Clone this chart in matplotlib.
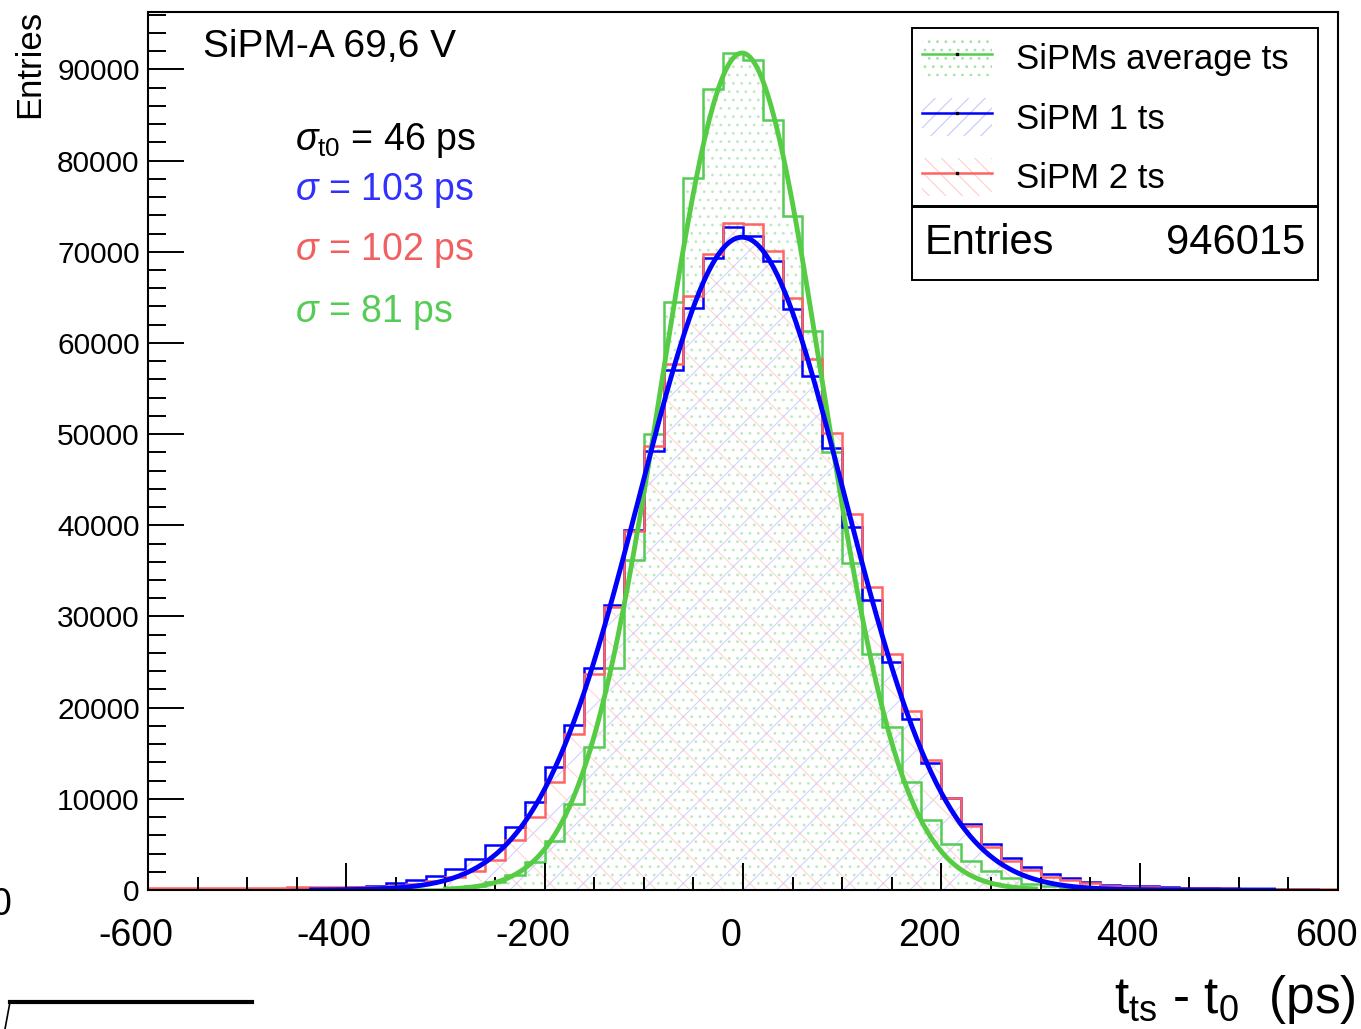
import numpy as np
import matplotlib.pyplot as plt
import matplotlib.transforms as mtransforms
from matplotlib import font_manager
from matplotlib.patches import Patch, Rectangle
from matplotlib.lines import Line2D
from matplotlib.legend_handler import HandlerTuple
from matplotlib.ticker import MultipleLocator

plt.rcParams['font.family'] = ['Liberation Sans', 'DejaVu Sans']
plt.rcParams['mathtext.fontset'] = 'custom'
plt.rcParams['mathtext.rm'] = 'Liberation Sans'
plt.rcParams['mathtext.it'] = 'Liberation Sans:italic'
plt.rcParams['mathtext.bf'] = 'Liberation Sans:bold'
plt.rcParams['hatch.linewidth'] = 0.8
plt.rcParams['axes.unicode_minus'] = False

try:
    font_manager.findfont('Liberation Sans Narrow', fallback_to_default=False)
    narrow = ['Liberation Sans Narrow', 'Liberation Sans']
    xfs = 33
except ValueError:
    narrow = ['Liberation Sans', 'DejaVu Sans']
    xfs = 27

# 20 ps bins from -600 to 600, counts in thousands
edges = np.arange(-600, 601, 20)
sipm1 = [0.02, 0.02, 0.03, 0.03, 0.04, 0.05, 0.06, 0.08, 0.12, 0.18,
         0.3, 0.47, 0.73, 1.06, 1.5, 2.3, 3.4, 4.9, 6.9, 9.7,
         13.5, 18.1, 24.3, 31.3, 39.5, 48.2, 57.0, 63.8, 69.3, 72.7,
         71.7, 69.0, 63.7, 56.4, 48.5, 39.8, 31.8, 25.0, 18.8, 13.9,
         10.1, 7.2, 5.1, 3.5, 2.5, 1.8, 1.3, 0.9, 0.55, 0.45,
         0.4, 0.3, 0.25, 0.2, 0.15, 0.12, 0.1, 0.08, 0.06, 0.05]
sipm2 = [0.18, 0.2, 0.2, 0.22, 0.22, 0.24, 0.26, 0.28, 0.3, 0.32,
         0.32, 0.33, 0.44, 0.66, 1.0, 1.4, 2.1, 3.3, 5.5, 8.0,
         11.9, 17.1, 23.7, 31.0, 39.4, 48.7, 57.7, 65.1, 69.8, 73.2,
         73.1, 70.1, 64.9, 58.2, 50.1, 41.2, 33.2, 25.9, 19.6, 14.3,
         10.1, 7.0, 4.75, 3.2, 2.2, 1.4, 1.1, 0.75, 0.45, 0.35,
         0.3, 0.25, 0.22, 0.2, 0.18, 0.16, 0.14, 0.12, 0.1, 0.1]
average = [0.01, 0.01, 0.01, 0.01, 0.01, 0.01, 0.02, 0.02, 0.02, 0.03,
           0.03, 0.04, 0.05, 0.07, 0.1, 0.2, 0.44, 0.9, 1.65, 3.1,
           5.35, 9.4, 15.7, 24.3, 36.2, 50.0, 64.5, 78.1, 87.9, 91.8,
           91.0, 84.4, 73.9, 61.3, 48.0, 35.9, 25.9, 17.9, 11.9, 7.7,
           5.0, 3.2, 2.1, 1.3, 0.7, 0.42, 0.25, 0.14, 0.08, 0.05,
           0.04, 0.03, 0.03, 0.02, 0.02, 0.02, 0.01, 0.01, 0.01, 0.01]
sipm1 = np.array(sipm1) * 1000
sipm2 = np.array(sipm2) * 1000
average = np.array(average) * 1000

# gaussian fits: amplitude, mean, sigma, range
fit1 = (71600, -1, 103, -435, 535)
fit_avg = (91800, -1, 81, -300, 295)

entries = 946015

green = '#55cc55'
blue = '#0000ff'
red = '#ff6464'

W, H = 1361, 1029
fig = plt.figure(figsize=(W / 100, H / 100), dpi=100)
ax = fig.add_axes([148 / W, 1 - 890 / H, (1338 - 148) / W, (890 - 12) / H])

# hatched fills
ax.stairs(average, edges, fill=True, facecolor='none', edgecolor='#bfe9bf',
          hatch='..', linewidth=0)
ax.stairs(sipm1, edges, fill=True, facecolor='none', edgecolor='#d2d2ff',
          hatch='/', linewidth=0)
ax.stairs(sipm2, edges, fill=True, facecolor='none', edgecolor='#ffd4d4',
          hatch='\\', linewidth=0)

# histogram outlines
ax.stairs(average, edges, color=green, lw=1.8)
ax.stairs(sipm1, edges, color=blue, lw=1.8)
ax.stairs(sipm2, edges, color=red, lw=1.8)

# fitted curves
for (a, m, s, lo, hi), c in [(fit_avg, '#55cc44'), (fit1, blue)]:
    xx = np.linspace(lo, hi, 400)
    ax.plot(xx, a * np.exp(-0.5 * ((xx - m) / s) ** 2), color=c, lw=3.5)

ax.set_xlim(-600, 600)
ax.set_ylim(0, 96300)

ax.xaxis.set_major_locator(MultipleLocator(200))
ax.xaxis.set_minor_locator(MultipleLocator(50))
ax.yaxis.set_major_locator(MultipleLocator(10000))
ax.yaxis.set_minor_locator(MultipleLocator(2000))
ax.tick_params(axis='x', which='major', direction='in', length=19.5, width=1.4,
               pad=20, labelsize=xfs, top=False)
ax.tick_params(axis='x', which='minor', direction='in', length=9.5, width=1.4, top=False)
ax.tick_params(axis='y', which='major', direction='in', length=26, width=1.4,
               pad=6, labelsize=21.5, right=False)
ax.tick_params(axis='y', which='minor', direction='in', length=13, width=1.4, right=False)
shift = mtransforms.ScaledTranslation(-0.12, 0, fig.dpi_scale_trans)
for lab in ax.get_xticklabels():
    lab.set_family(narrow)
    lab.set_transform(lab.get_transform() + shift)
for sp in ax.spines.values():
    sp.set_linewidth(1.5)

# axis titles
fig.text(30 / W, 1 - 10 / H, 'Entries', rotation=90, ha='center', va='top', fontsize=25)
fig.text(1356 / W, 1 - 1000 / H, r'$\mathregular{t_{ts}}$ - $\mathregular{t_{0}}$  (ps)',
         ha='right', va='center', fontsize=37, family=narrow)

# annotations
fig.text(203 / W, 1 - 47 / H, 'SiPM-A 69,6 V', ha='left', va='center', fontsize=28)
fig.text(295 / W, 1 - 140 / H, r'$\sigma_{\mathrm{t0}}$ = 46 ps', ha='left', va='center',
         fontsize=27, color='black')
fig.text(295 / W, 1 - 191 / H, r'$\sigma$ = 103 ps', ha='left', va='center',
         fontsize=27, color='#3030ff')
fig.text(295 / W, 1 - 251 / H, r'$\sigma$ = 102 ps', ha='left', va='center',
         fontsize=27, color='#f06060')
fig.text(295 / W, 1 - 312 / H, r'$\sigma$ = 81 ps', ha='left', va='center',
         fontsize=27, color='#55cc55')

# legend
def handle(edge, hatch, col):
    return (Patch(facecolor='none', edgecolor=edge, hatch=hatch, lw=0),
            Line2D([], [], color=col, lw=1.8, marker='s', markersize=1.5,
                   mfc='k', mec='k'))

handles = [handle('#a6e3a6', '..', green), handle('#c8c8ff', '//', blue),
           handle('#ffcccc', '\\\\', red)]
leg = fig.legend(handles, ['SiPMs average ts', 'SiPM 1 ts', 'SiPM 2 ts'],
                 handler_map={tuple: HandlerTuple(ndivide=1, pad=0)},
                 loc='upper left', bbox_to_anchor=(912 / W, 1 - 205 / H, 406 / W, 177 / H),
                 bbox_transform=fig.transFigure, mode='expand', borderaxespad=0,
                 fontsize=25, handlelength=2.0, handleheight=1.3, handletextpad=0.7,
                 labelspacing=0.63, borderpad=0.3, fancybox=False, framealpha=1,
                 edgecolor='black')
leg.get_frame().set_linewidth(1.4)

# stats box
fig.add_artist(Rectangle((912 / W, 1 - 280 / H), 406 / W, 73 / H, transform=fig.transFigure,
                         facecolor='white', edgecolor='black', lw=1.4, zorder=10))
fig.text(925 / W, 1 - 243 / H, 'Entries', ha='left', va='center', fontsize=30, zorder=11)
fig.text(1305 / W, 1 - 243 / H, str(entries), ha='right', va='center', fontsize=30, zorder=11)

# remnants of the neighbouring pad at the image border
fig.text(-10 / W, 1 - 905 / H, '0', ha='left', va='center', fontsize=xfs, family=narrow)
fig.add_artist(Line2D([10 / W, 252 / W], [1 - 1002 / H, 1 - 1002 / H],
                      transform=fig.transFigure, color='black', lw=3))
fig.add_artist(Line2D([10 / W, 5 / W], [1 - 1002 / H, 0], transform=fig.transFigure,
                      color='black', lw=1.2))

fig.savefig('out.png', dpi=100)
